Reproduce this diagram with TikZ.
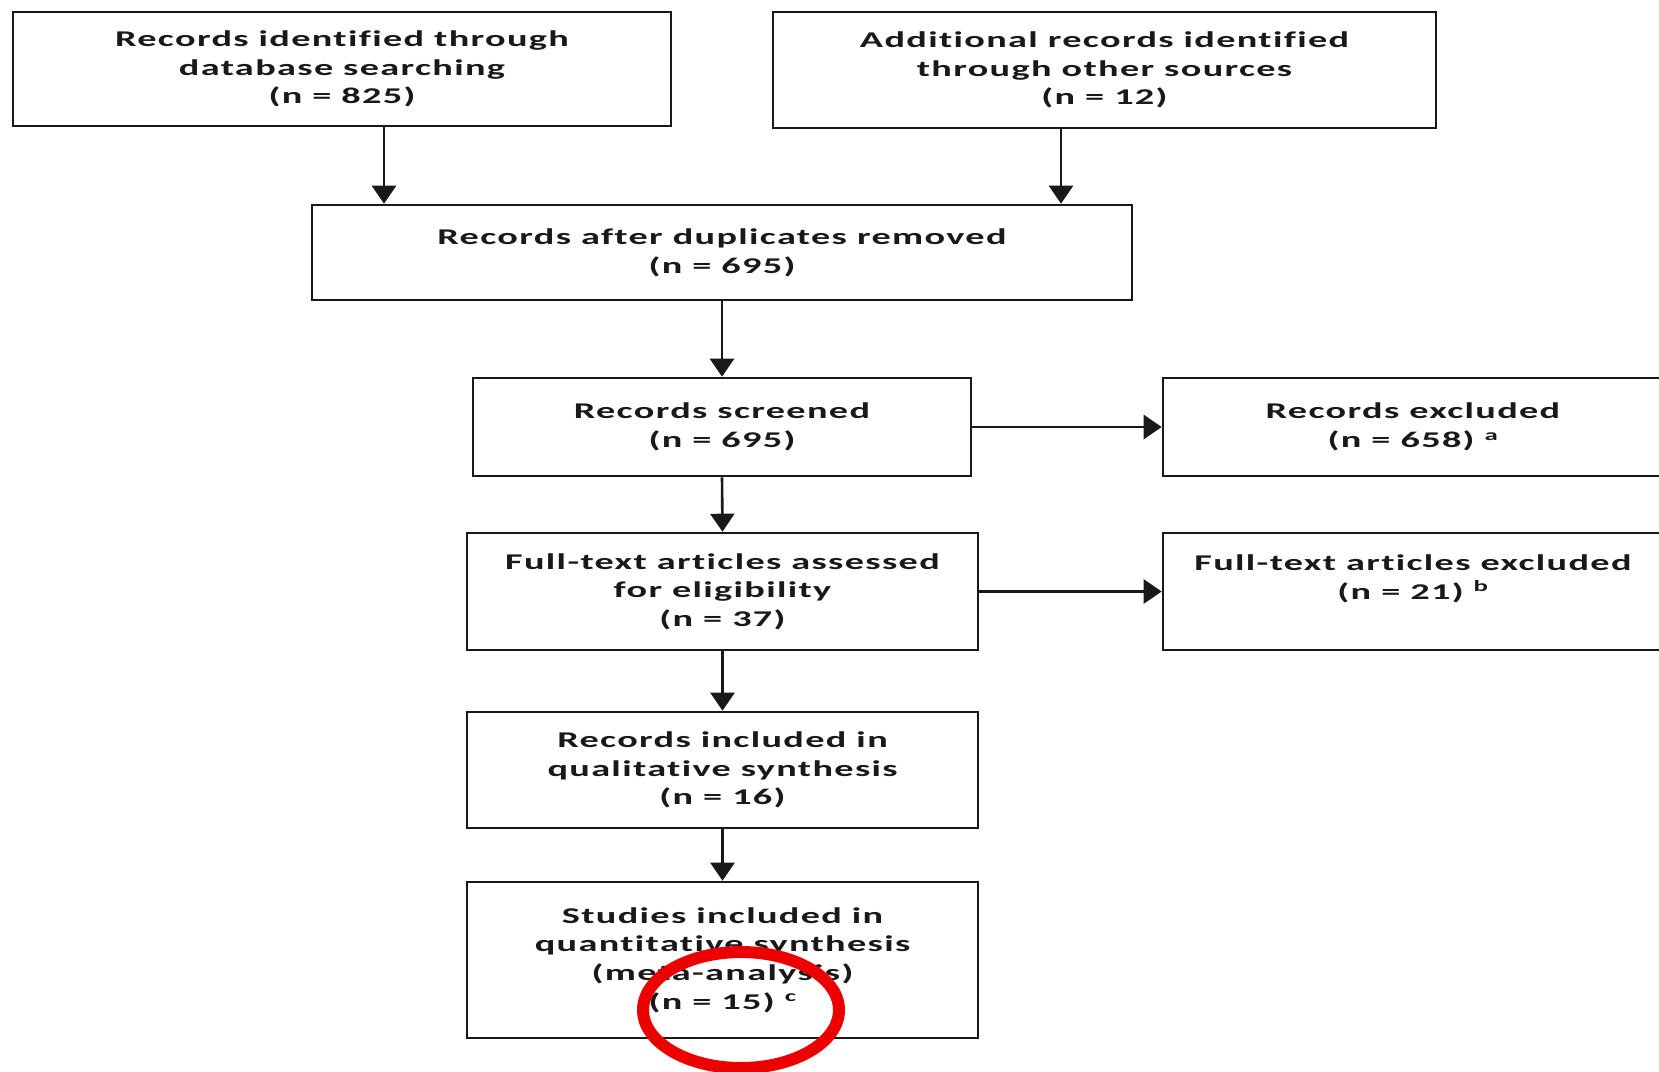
\documentclass[tikz,border=0pt]{standalone}
\usepackage{fontspec}
\newfontfamily\boxfont{Carlito}[FakeStretch=1.7,LetterSpace=6,Ligatures={NoCommon}]
\usetikzlibrary{arrows.meta}
\definecolor{ringred}{RGB}{236,0,0}
\definecolor{inkgray}{RGB}{25,25,25}
\begin{document}
\begin{tikzpicture}[x=1pt,y=-1pt,
  box/.style={draw=inkgray, line width=2.6pt, rectangle, inner sep=0pt, align=center,
    font=\boxfont\bfseries\fontsize{22.5}{28.7}\selectfont, text=inkgray},
  arr/.style={draw=inkgray, line width=2.6pt, -{Triangle[width=24pt,length=18pt]}},
]
\useasboundingbox (0,0) rectangle (1659,1071);
\node[box, minimum width=658pt, minimum height=114pt] (b1) at (342,69)
  {Records identified through\\database searching\\(n = 825)};
\node[box, minimum width=663pt, minimum height=116pt] (b2) at (1104.5,70)
  {Additional records identified\\through other sources\\(n = 12)};
\node[box, minimum width=820pt, minimum height=95pt] (b3) at (722,252.5)
  {Records after duplicates removed\\(n = 695)};
\node[box, minimum width=498pt, minimum height=98pt] (b4) at (722,427)
  {Records screened\\(n = 695)};
\node[box, minimum width=511pt, minimum height=117pt] (b5) at (722.5,591.5)
  {Full-text articles assessed\\for eligibility\\(n = 37)};
\node[box, minimum width=511pt, minimum height=116pt] (b6) at (722.5,770)
  {Records included in\\qualitative synthesis\\(n = 16)};
\node[box, minimum width=511pt, minimum height=156pt] (b7) at (722.5,960)
  {Studies included in\\quantitative synthesis\\(meta-analysis)\\(n = 15) \textsuperscript{c}};
\node[box, minimum width=500pt, minimum height=98pt] (e1) at (1413,427)
  {Records excluded\\(n = 658) \textsuperscript{a}};
\node[box, minimum width=500pt, minimum height=117pt] (e2) at (1413,591.5)
  {Full-text articles excluded\\(n = 21) \textsuperscript{b}\\\mbox{}};
\coordinate (c1) at (384,0);
\coordinate (c2) at (1061,0);
\draw[arr] (b1.south -| c1) -- (b3.north -| c1);
\draw[arr] (b2.south -| c2) -- (b3.north -| c2);
\draw[arr] (b3.south) -- (b4.north);
\draw[arr] (b4.south) -- (b5.north);
\draw[arr] (b5.south) -- (b6.north);
\draw[arr] (b6.south) -- (b7.north);
\draw[arr] (b4.east) -- (b4.east -| e1.west);
\draw[arr] (b5.east) -- (b5.east -| e2.west);
\draw[ringred, line width=12pt] (741,1010) ellipse [x radius=98pt, y radius=58pt];
\end{tikzpicture}
\end{document}
